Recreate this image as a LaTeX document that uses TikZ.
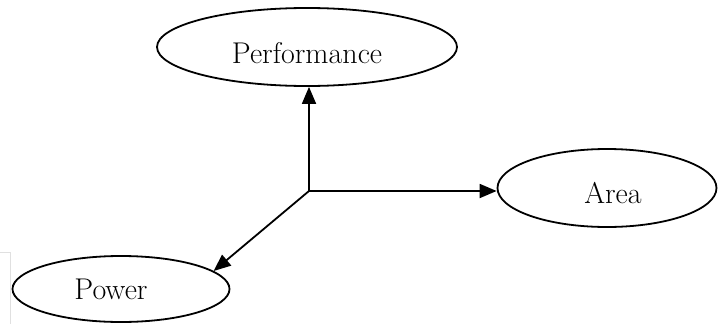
\documentclass[tikz,border=0pt]{standalone}
\usetikzlibrary{shapes.geometric,arrows.meta}
\newcommand{\nudge}[3]{\hspace*{#1}\raisebox{#2}[\height][\depth]{#3}}
\tikzset{
  goal/.style={draw, ellipse, line width=1.8pt, inner sep=0pt, font=\fontsize{30}{36}\selectfont},
  link/.style={line width=1.8pt, -{Triangle[length=17pt,width=14pt]}}
}
\begin{document}
\begin{tikzpicture}[x=1pt, y=-1pt]
	\useasboundingbox (0,0) rectangle (719,324);
	\draw[black!12, line width=0.8pt] (0,252) -- (10,252) -- (10,324);
	\node[goal, minimum width=300pt, minimum height=78pt] (perf) at (307,47) {\nudge{0pt}{-6pt}{Performance}};
	\node[goal, minimum width=219pt, minimum height=78pt] (area) at (607,188) {\nudge{12pt}{-5pt}{Area}};
	\node[goal, minimum width=217pt, minimum height=66pt] (power) at (121,289) {\nudge{-20pt}{0pt}{Power}};
	\coordinate (hub) at (309,191);
	\draw[link] (hub) -- (hub |- perf.south);
	\draw[link] (hub) -- (area.west |- hub);
	\draw[link] (hub) -- (power.11);
\end{tikzpicture}
\end{document}
